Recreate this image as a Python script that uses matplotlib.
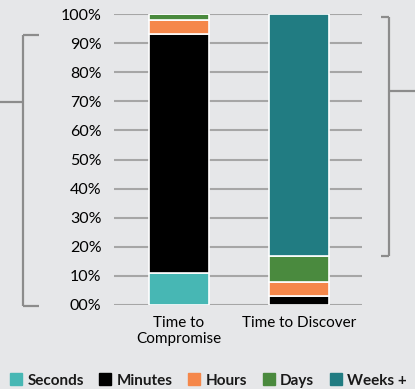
import matplotlib
matplotlib.use("Agg")
import matplotlib.pyplot as plt
from matplotlib.lines import Line2D
import numpy as np

# data (percent of incidents)
categories = ["Time to\nCompromise", "Time to Discover"]
series = ["Seconds", "Minutes", "Hours", "Days", "Weeks +"]
seconds = [11, 0]
minutes = [82, 3]
hours = [5, 5]
days = [2, 9]
weeks = [0, 83]
colors = ["#47b7b4", "#000000", "#f5874a", "#4a8a3e", "#217c82"]
yticks = list(range(0, 101, 10))
ytick_labels = ["00%"] + [f"{v}%" for v in yticks[1:]]

BG = "#e6e7e9"
W, H = 415, 389

plt.rcParams["font.family"] = ["Lato", "DejaVu Sans"]
plt.rcParams["text.color"] = "#1a1a1a"

fig = plt.figure(figsize=(W / 100, H / 100), dpi=100, facecolor=BG)
ax = fig.add_axes([114 / W, 1 - 305 / H, 248 / W, 291 / H], facecolor=BG)

x = np.arange(len(categories))
bottom = np.zeros(len(categories))
for name, vals, c in zip(series, [seconds, minutes, hours, days, weeks], colors):
    vals = np.array(vals, dtype=float)
    ax.bar(x, vals, 0.5, bottom=bottom, color=c, edgecolor="white",
           linewidth=1.2, zorder=3, label=name)
    bottom += vals

ax.set_ylim(0, 100)
ax.set_xlim(-0.54, 1.52)
ax.set_yticks(yticks)
ax.set_yticklabels(ytick_labels, fontsize=11.5)
ax.set_xticks(x)
ax.set_xticklabels(categories, fontsize=11, va="top")
ax.tick_params(axis="y", length=0, pad=9)
ax.tick_params(axis="x", length=0, pad=8)
ax.yaxis.grid(True, color="#a6a6a6", linewidth=1.5, zorder=0)
ax.set_axisbelow(True)
for s in ax.spines.values():
    s.set_visible(False)


def px(xp, yp):
    return xp / W, 1 - yp / H


def bracket_line(p1, p2):
    (x1, y1), (x2, y2) = px(*p1), px(*p2)
    fig.add_artist(Line2D([x1, x2], [y1, y2], color="#8c8c8c", linewidth=1.6,
                          solid_capstyle="butt", transform=fig.transFigure))


# left bracket
bracket_line((23, 35), (23, 306))
bracket_line((23, 35), (39, 35))
bracket_line((23, 306), (39, 306))
bracket_line((0, 101.5), (23, 101.5))
# right bracket
bracket_line((389, 16.5), (389, 256))
bracket_line((381, 16.5), (389, 16.5))
bracket_line((381, 256), (389, 256))
bracket_line((389, 90.5), (415, 90.5))

handles = [Line2D([], [], linestyle="none", marker="s", markersize=9,
                  markerfacecolor=c, markeredgecolor=c) for c in colors]
fig.legend(handles, series, ncol=5, loc="lower left",
           bbox_to_anchor=(3 / W, -0.012), frameon=False,
           prop={"size": 11, "weight": "bold"}, handlelength=0.9,
           handletextpad=0.3, columnspacing=0.95, borderaxespad=0)

fig.savefig("out.png", dpi=100, facecolor=BG)
